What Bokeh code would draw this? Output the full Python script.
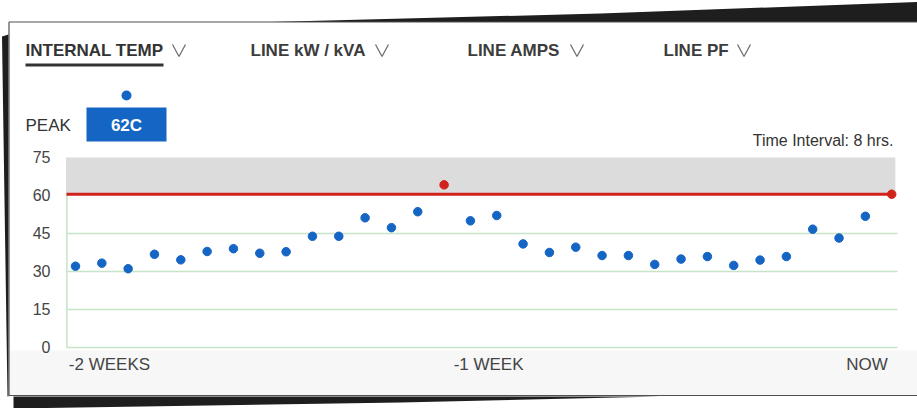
from bokeh.plotting import figure
from bokeh.models import (BoxAnnotation, LinearAxis, FixedTicker,
                          ColumnDataSource, Range1d)
from bokeh.core.properties import value
from bokeh.embed import file_html
from bokeh.resources import INLINE

# ---- data ----
values = [32.1, 33.3, 31.1, 36.8, 34.6, 37.9, 39.0, 37.2, 37.8, 43.9, 43.9, 51.2,
          47.3, 53.6, 64.2, 50.0, 52.1, 40.9, 37.5, 39.6, 36.3, 36.3, 32.8, 34.9,
          35.9, 32.4, 34.5, 35.9, 46.7, 43.2, 51.8, 60.5]
index = list(range(len(values)))
threshold = 60.5
y_ticks = [0, 15, 30, 45, 60, 75]
grid_ticks = [0, 15, 30, 45]
x_tick_pos = [1.29, 15.69, 30.06]
x_tick_labels = ["-2 WEEKS", "-1 WEEK", "NOW"]
tabs = ["INTERNAL TEMP", "LINE kW / kVA", "LINE AMPS", "LINE PF"]
peak_label = "62C"
interval_text = "Time Interval: 8 hrs."

BLUE = "#1565c4"
RED = "#d2221c"
GREEN = "#c6e4c6"
colors = [RED if v >= threshold else BLUE for v in values]

W, H = 917, 408
# plot area inside the card: index -0.342 .. 31.22, value 0 .. 75
PX0, PX1 = -0.342, 31.22
# whole-canvas data window (the card is drawn around the plot area)
XR = Range1d(-2.848, 31.98)
YR = Range1d(-24.08, 136.97)

p = figure(width=W, height=H, output_backend="svg", toolbar_location=None,
           x_range=XR, y_range=YR, x_axis_location=None, y_axis_location=None,
           min_border=0)
p.grid.visible = False
p.outline_line_color = None
p.background_fill_color = "white"
p.border_fill_color = "white"
p.extra_x_ranges = {"px": Range1d(0, W)}
p.extra_y_ranges = {"py": Range1d(H, 0)}
PXR = dict(x_range_name="px", y_range_name="py")

# ---- card & shadow (pixel layout) ----
p.quad(left=[8], right=[917], top=[350], bottom=[395], fill_color="#f7f7f7",
       line_color=None, level="underlay", **PXR)
p.patch([270, 600, 917, 917], [21.5, 13, 1.5, 21.5], fill_color="#1e1e1e",
        line_color=None, **PXR)
p.patch([13, 13, 400, 660], [396, 408, 402, 396], fill_color="#1e1e1e",
        line_color=None, **PXR)
p.patch([1.5, 8, 8, 7], [36, 34, 396, 396], fill_color="#1e1e1e",
        line_color=None, **PXR)
p.multi_line(xs=[[8.5, 917], [8.5, 8.5], [8.5, 917]],
             ys=[[21.5, 21.5], [21.5, 395], [395, 395]],
             line_color="#505050", line_width=1.2, **PXR)

# ---- tabs ----
tab_x = [25, 250, 467, 663]
chev_x = [172, 375, 570, 737]
p.text(x=tab_x, y=[50] * 4, text=tabs, text_font=value("Liberation Sans"),
       text_font_style="bold", text_font_size="17px", text_baseline="middle",
       text_color=["#333333", "#3c3c3c", "#3c3c3c", "#3c3c3c"], **PXR)
p.multi_line(xs=[[c, c + 6.5, c + 13] for c in chev_x], ys=[[44, 56, 44]] * 4,
             line_color="#707070", line_width=1.3, **PXR)
p.quad(left=[25], right=[163], top=[63], bottom=[66], fill_color="#333333",
       line_color=None, **PXR)

# ---- peak ----
p.text(x=[25], y=[125], text=["PEAK"], text_font=value("Liberation Sans"),
       text_font_size="17px", text_baseline="middle", text_color="#333333", **PXR)
p.quad(left=[86], right=[166], top=[107], bottom=[141], fill_color=BLUE,
       line_color=None, **PXR)
p.text(x=[126], y=[125], text=[peak_label], text_font=value("Liberation Sans"),
       text_font_style="bold", text_font_size="17px", text_align="center",
       text_baseline="middle", text_color="white", **PXR)
p.scatter(x=[126], y=[95], size=10, fill_color=BLUE, line_color=None, **PXR)

p.text(x=[893], y=[140], text=[interval_text], text_font=value("Liberation Sans"),
       text_font_size="16px", text_align="right", text_baseline="middle",
       text_color="#333333", **PXR)

# ---- chart ----
p.segment(x0=[PX0] * len(grid_ticks), x1=[PX1] * len(grid_ticks), y0=grid_ticks,
          y1=grid_ticks, line_color=GREEN, line_width=1.5, level="underlay")
p.segment(x0=[PX0 + 0.015], x1=[PX0 + 0.015], y0=[y_ticks[0]], y1=[y_ticks[-1]],
          line_color=GREEN, line_width=1.5, level="underlay")
p.add_layout(BoxAnnotation(left=PX0, right=31.14, bottom=threshold, top=75,
                           fill_color="#dcdcdc", fill_alpha=1, line_color=None,
                           level="underlay"))

yax = LinearAxis(fixed_location=PX0, ticker=FixedTicker(ticks=y_ticks))
yax.axis_line_color = None
yax.major_tick_line_color = None
yax.minor_tick_line_color = None
yax.major_tick_out = 0
yax.major_tick_in = 0
yax.major_label_standoff = 16
yax.major_label_text_font = "Liberation Sans"
yax.major_label_text_font_size = "16px"
yax.major_label_text_color = "#444444"
p.add_layout(yax, "left")

xax = LinearAxis(fixed_location=0, ticker=FixedTicker(ticks=x_tick_pos))
xax.major_label_overrides = {t: l for t, l in zip(x_tick_pos, x_tick_labels)}
xax.axis_line_color = None
xax.major_tick_line_color = None
xax.minor_tick_line_color = None
xax.major_tick_out = 0
xax.major_tick_in = 0
xax.major_label_standoff = 8
xax.major_label_text_font = "Liberation Sans"
xax.major_label_text_font_size = "17px"
xax.major_label_text_color = "#444444"
p.add_layout(xax, "below")

p.line(x=[PX0, index[-1]], y=[threshold, threshold], line_color=RED, line_width=3)
src = ColumnDataSource(dict(x=index, y=values, c=colors))
p.scatter("x", "y", source=src, size=8.5, fill_color="c", line_color="c")

open("out.html", "w").write(file_html(p, INLINE))
